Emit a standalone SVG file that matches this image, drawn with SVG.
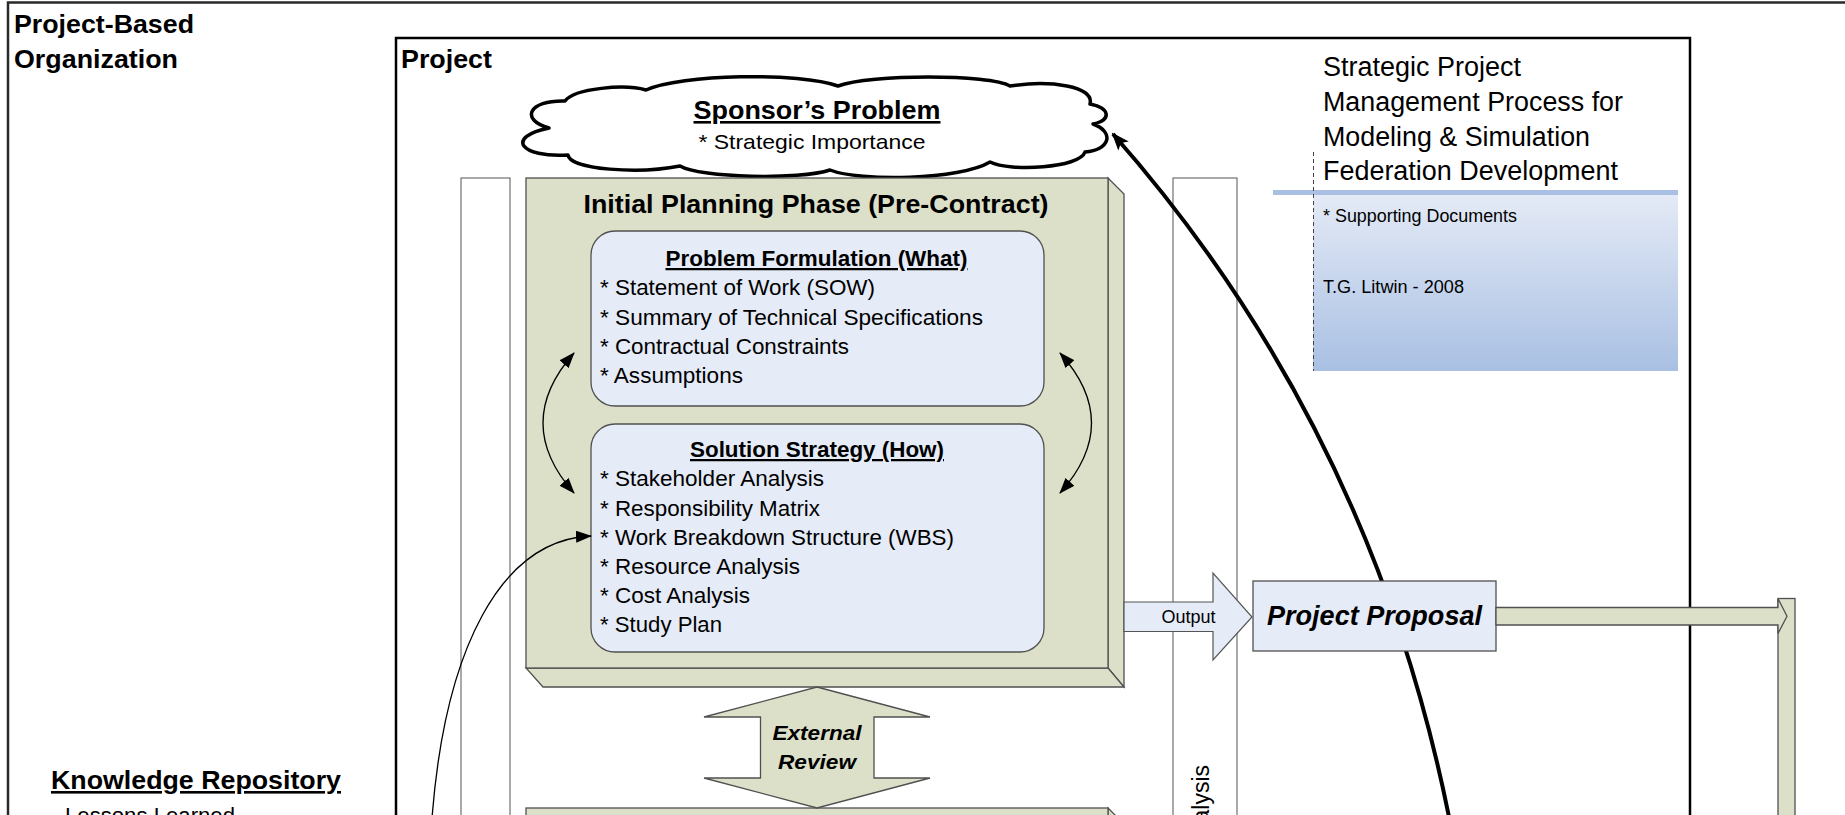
<svg xmlns="http://www.w3.org/2000/svg" width="1845" height="815" viewBox="0 0 1845 815">
<style>
.t{font-family:"Liberation Sans",Arial,Helvetica,sans-serif;fill:#000}
.b{font-weight:bold}
.i{font-style:italic}
.u{text-decoration:underline}
.green{fill:#DDE0C9;stroke:#505050;stroke-width:1.3}
.blue{fill:#E5EBF7;stroke:#505050;stroke-width:1.3}
.lane{fill:#fff;stroke:#555;stroke-width:1}
.thin{fill:none;stroke:#000;stroke-width:1.3}
</style>
<defs>
<marker id="ah" markerUnits="userSpaceOnUse" viewBox="0 0 16 12" markerWidth="16" markerHeight="12" refX="15" refY="6" orient="auto-start-reverse"><path d="M0,0 L16,6 L0,12 Z" fill="#000"/></marker>
<marker id="ahb" markerUnits="userSpaceOnUse" viewBox="0 0 18 14" markerWidth="18" markerHeight="14" refX="16" refY="7" orient="auto"><path d="M0,0 L18,7 L0,14 L4,7 Z" fill="#000"/></marker>
<linearGradient id="gb" x1="0" y1="0" x2="0" y2="1"><stop offset="0" stop-color="#E4EAF6"/><stop offset="1" stop-color="#A9C0E3"/></linearGradient>
</defs>
<rect width="1845" height="815" fill="#fff"/>

<g id="organization">
<rect x="8" y="2.5" width="1900" height="900" fill="none" stroke="#2a2a2a" stroke-width="2.5"/>
<text class="t b" x="14" y="33" font-size="26" textLength="180" lengthAdjust="spacingAndGlyphs">Project-Based</text>
<text class="t b" x="14" y="68" font-size="26" textLength="164" lengthAdjust="spacingAndGlyphs">Organization</text>
</g>

<g id="knowledge-repository">
<text class="t b u" x="51" y="789" font-size="26" textLength="290" lengthAdjust="spacingAndGlyphs">Knowledge Repository</text>
<text class="t" x="65" y="823" font-size="22" textLength="170" lengthAdjust="spacingAndGlyphs">Lessons Learned</text>
</g>

<g id="project">
<rect x="396" y="38" width="1294" height="900" fill="none" stroke="#000" stroke-width="2.5"/>
<text class="t b" x="401" y="68" font-size="26" textLength="91" lengthAdjust="spacingAndGlyphs">Project</text>
</g>

<g id="lane-left"><rect class="lane" x="461" y="178" width="49" height="700"/></g>
<g id="lane-right">
<rect class="lane" x="1173" y="178" width="64" height="700"/>
<text class="t" font-size="23" text-anchor="end" transform="translate(1209,765) rotate(-90)">Analysis</text>
</g>

<g id="title">
<text class="t" x="1323" y="76" font-size="27" textLength="198" lengthAdjust="spacingAndGlyphs">Strategic Project</text>
<text class="t" x="1323" y="110.5" font-size="27" textLength="300" lengthAdjust="spacingAndGlyphs">Management Process for</text>
<text class="t" x="1323" y="145.5" font-size="27" textLength="267" lengthAdjust="spacingAndGlyphs">Modeling &amp; Simulation</text>
<text class="t" x="1323" y="180" font-size="27" textLength="295" lengthAdjust="spacingAndGlyphs">Federation Development</text>
</g>

<g id="supporting-documents">
<rect x="1273" y="190" width="405" height="5" fill="#A9C0E3"/>
<rect x="1313" y="195" width="365" height="176" fill="url(#gb)"/>
<line x1="1313.5" y1="152" x2="1313.5" y2="371" stroke="#444" stroke-width="1" stroke-dasharray="4,3"/>
<text class="t" x="1323" y="221.5" font-size="18" textLength="194" lengthAdjust="spacingAndGlyphs">* Supporting Documents</text>
<text class="t" x="1323" y="292.5" font-size="18" textLength="141" lengthAdjust="spacingAndGlyphs">T.G. Litwin - 2008</text>
</g>

<g id="connectors-back">
<path d="M1450,822 Q1372,428 1113,134" fill="none" stroke="#000" stroke-width="4" marker-end="url(#ahb)"/>
</g>

<g id="sponsors-problem">
<path d="M549,128 C520,120 528,100 565,101 C575,88 625,84 646,90 C680,74 800,72 838,86 C870,74 990,74 1010,86 C1050,80 1095,86 1090,104 C1110,108 1112,120 1093,124 C1115,132 1110,150 1085,152 C1080,168 1010,172 990,162 C960,180 860,182 830,170 C800,180 700,178 680,166 C640,174 570,170 568,155 C520,158 505,137 549,128 Z" fill="#fff" stroke="#000" stroke-width="3.5" stroke-linejoin="round"/>
<text class="t b u" x="817" y="119" font-size="26" text-anchor="middle" textLength="247" lengthAdjust="spacingAndGlyphs">Sponsor’s Problem</text>
<text class="t" x="812" y="149" font-size="21" text-anchor="middle" textLength="227" lengthAdjust="spacingAndGlyphs">* Strategic Importance</text>
</g>

<g id="initial-planning-phase">
<polygon class="green" points="1108,178 1124,194 1124,687 1108,668"/>
<polygon class="green" points="526,668 1108,668 1124,687 543,687"/>
<rect class="green" x="526" y="178" width="582" height="490"/>
<text class="t b" x="816" y="213" font-size="26" text-anchor="middle" textLength="465" lengthAdjust="spacingAndGlyphs">Initial Planning Phase (Pre-Contract)</text>
</g>

<g id="problem-formulation">
<rect class="blue" x="591" y="231" width="453" height="175" rx="24" ry="24"/>
<text class="t b u" x="816.5" y="266" font-size="22.5" text-anchor="middle" textLength="302" lengthAdjust="spacingAndGlyphs">Problem Formulation (What)</text>
<text class="t" x="600" y="295" font-size="22" textLength="275" lengthAdjust="spacingAndGlyphs">* Statement of Work (SOW)</text>
<text class="t" x="600" y="324.5" font-size="22" textLength="383" lengthAdjust="spacingAndGlyphs">* Summary of Technical Specifications</text>
<text class="t" x="600" y="354" font-size="22" textLength="249" lengthAdjust="spacingAndGlyphs">* Contractual Constraints</text>
<text class="t" x="600" y="383" font-size="22" textLength="143" lengthAdjust="spacingAndGlyphs">* Assumptions</text>
</g>

<g id="solution-strategy">
<rect class="blue" x="591" y="424" width="453" height="228" rx="24" ry="24"/>
<text class="t b u" x="817" y="457" font-size="22.5" text-anchor="middle" textLength="254" lengthAdjust="spacingAndGlyphs">Solution Strategy (How)</text>
<text class="t" x="600" y="486" font-size="22" textLength="224" lengthAdjust="spacingAndGlyphs">* Stakeholder Analysis</text>
<text class="t" x="600" y="515.5" font-size="22" textLength="220" lengthAdjust="spacingAndGlyphs">* Responsibility Matrix</text>
<text class="t" x="600" y="545" font-size="22" textLength="354" lengthAdjust="spacingAndGlyphs">* Work Breakdown Structure (WBS)</text>
<text class="t" x="600" y="574" font-size="22" textLength="200" lengthAdjust="spacingAndGlyphs">* Resource Analysis</text>
<text class="t" x="600" y="603" font-size="22" textLength="150" lengthAdjust="spacingAndGlyphs">* Cost Analysis</text>
<text class="t" x="600" y="632" font-size="22" textLength="122" lengthAdjust="spacingAndGlyphs">* Study Plan</text>
</g>

<g id="next-phase">
<polygon class="green" points="1108,808 1124,824 1124,900 1108,900"/>
<rect class="green" x="526" y="808" width="582" height="100"/>
</g>

<g id="project-proposal">
<rect class="blue" x="1253" y="581" width="243" height="70"/>
<text class="t b i" x="1374.5" y="625" font-size="27" text-anchor="middle" textLength="215" lengthAdjust="spacingAndGlyphs">Project Proposal</text>
</g>

<g id="next-phase-bar">
<rect class="green" x="1778" y="598.5" width="17" height="320"/>
</g>

<g id="connectors">
<path class="thin" d="M574,353 Q512,423 574,493" marker-start="url(#ah)" marker-end="url(#ah)"/>
<path class="thin" d="M1060,353 Q1123,423 1060,493" marker-start="url(#ah)" marker-end="url(#ah)"/>
<path class="thin" d="M432,818 C445,650 500,540 591,536" marker-end="url(#ah)"/>
<polygon points="1124,602 1213,602 1213,573 1252,617 1213,660 1213,631.5 1124,631.5" fill="#E5EBF7" stroke="#555" stroke-width="1.2"/>
<text class="t" x="1188.5" y="623" font-size="18" text-anchor="middle" textLength="54" lengthAdjust="spacingAndGlyphs">Output</text>
<polygon class="green" points="1496,607.5 1778,607.5 1778,598.5 1787,616.3 1778,633.5 1778,625 1496,625"/>
<polygon class="green" points="817,687 930,717 874,717 874,778 930,778 817,808 704,778 760.5,778 760.5,717 704,717"/>
<text class="t b i" x="817" y="740" font-size="21" text-anchor="middle" textLength="89" lengthAdjust="spacingAndGlyphs">External</text>
<text class="t b i" x="817" y="769" font-size="21" text-anchor="middle" textLength="78" lengthAdjust="spacingAndGlyphs">Review</text>
</g>
</svg>
